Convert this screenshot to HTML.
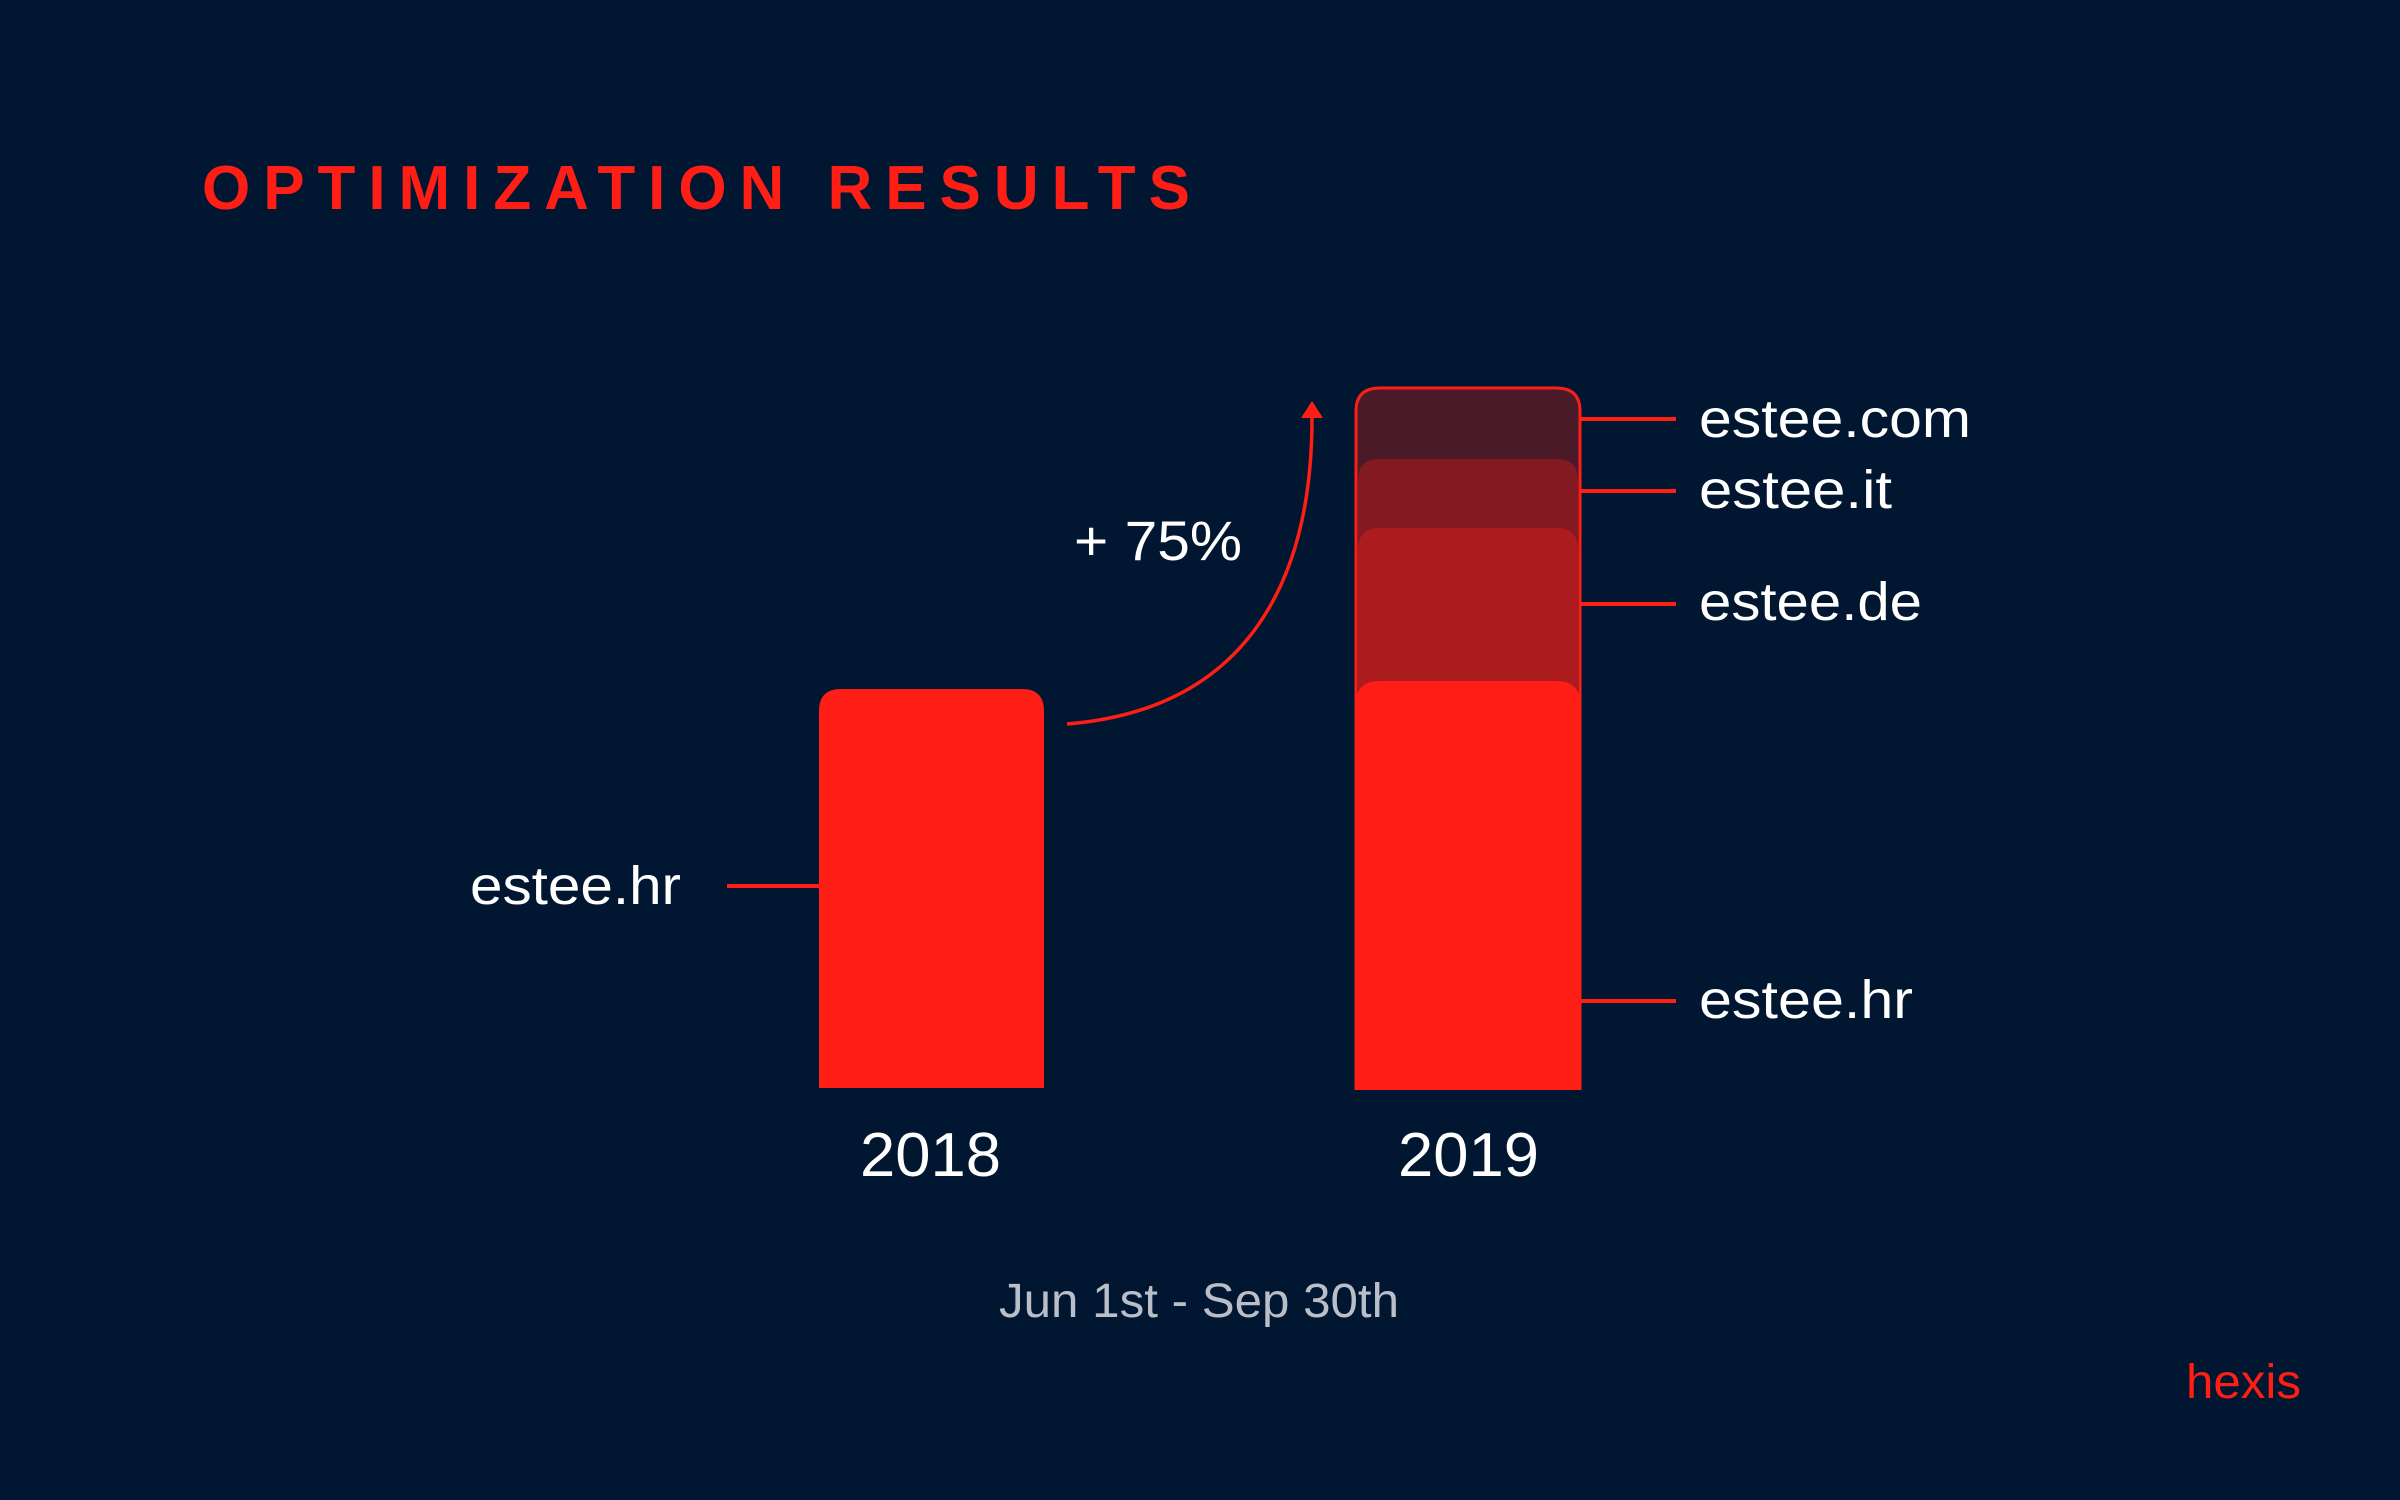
<!DOCTYPE html>
<html><head><meta charset="utf-8"><style>
html,body{margin:0;padding:0;background:#011631;}
svg{display:block}
</style></head><body>
<svg width="2400" height="1500" viewBox="0 0 2400 1500" xmlns="http://www.w3.org/2000/svg" font-family="Liberation Sans, sans-serif">
<rect width="2400" height="1500" fill="#011631"/>
<text x="202" y="209" font-size="62" font-weight="bold" fill="#fe1e16" textLength="988" lengthAdjust="spacing">OPTIMIZATION RESULTS</text>
<!-- 2018 bar -->
<path d="M819 1088 V711 Q819 689 841 689 H1022 Q1044 689 1044 711 V1088 Z" fill="#fe1e16"/>
<line x1="727" y1="886" x2="819" y2="886" stroke="#fe1e16" stroke-width="4"/>
<text x="470" y="904" font-size="54" fill="#fff" textLength="211" lengthAdjust="spacingAndGlyphs">estee.hr</text>
<!-- 2019 bar -->
<path d="M1356 1090 V411 Q1356 388 1380 388 H1556 Q1580 388 1580 411 V1090 Z" fill="#4a1a28"/>
<path d="M1358 1090 V480 Q1358 459 1380 459 H1556 Q1578 459 1578 480 V1090 Z" fill="#831a22"/>
<path d="M1358 1090 V550 Q1358 528 1380 528 H1556 Q1578 528 1578 550 V1090 Z" fill="#ac1b1e"/>
<path d="M1356 1090 V703 Q1356 681 1380 681 H1556 Q1580 681 1580 703 V1090 Z" fill="#fe1e16"/>
<path d="M1356 1090 V411 Q1356 388 1380 388 H1556 Q1580 388 1580 411 V1090" fill="none" stroke="#fe1e16" stroke-width="3"/>
<g stroke="#fe1e16" stroke-width="4">
<line x1="1581" y1="419" x2="1676" y2="419"/>
<line x1="1581" y1="491" x2="1676" y2="491"/>
<line x1="1581" y1="604" x2="1676" y2="604"/>
<line x1="1581" y1="1001" x2="1676" y2="1001"/>
</g>
<g font-size="54" fill="#fff">
<text x="1699" y="437" textLength="272" lengthAdjust="spacingAndGlyphs">estee.com</text>
<text x="1699" y="508" textLength="193" lengthAdjust="spacingAndGlyphs">estee.it</text>
<text x="1699" y="620" textLength="223" lengthAdjust="spacingAndGlyphs">estee.de</text>
<text x="1699" y="1018" textLength="214" lengthAdjust="spacingAndGlyphs">estee.hr</text>
</g>
<!-- growth arrow -->
<path d="M1067 724 C1240 710 1312 590 1312 418" fill="none" stroke="#fe1e16" stroke-width="3.5"/>
<polygon points="1312,401 1301,418 1323,418" fill="#fe1e16"/>
<text x="1074" y="560" font-size="56" fill="#fff" textLength="168" lengthAdjust="spacingAndGlyphs">+ 75%</text>
<g font-size="62" fill="#fff">
<text x="860" y="1176" textLength="141" lengthAdjust="spacingAndGlyphs">2018</text>
<text x="1398" y="1176" textLength="141" lengthAdjust="spacingAndGlyphs">2019</text>
</g>
<text x="999" y="1317" font-size="48" fill="#b9bec8" textLength="400" lengthAdjust="spacingAndGlyphs">Jun 1st - Sep 30th</text>
<text x="2186" y="1398" font-size="48" fill="#fe1e16" textLength="115" lengthAdjust="spacingAndGlyphs">hexis</text>
</svg>
</body></html>
